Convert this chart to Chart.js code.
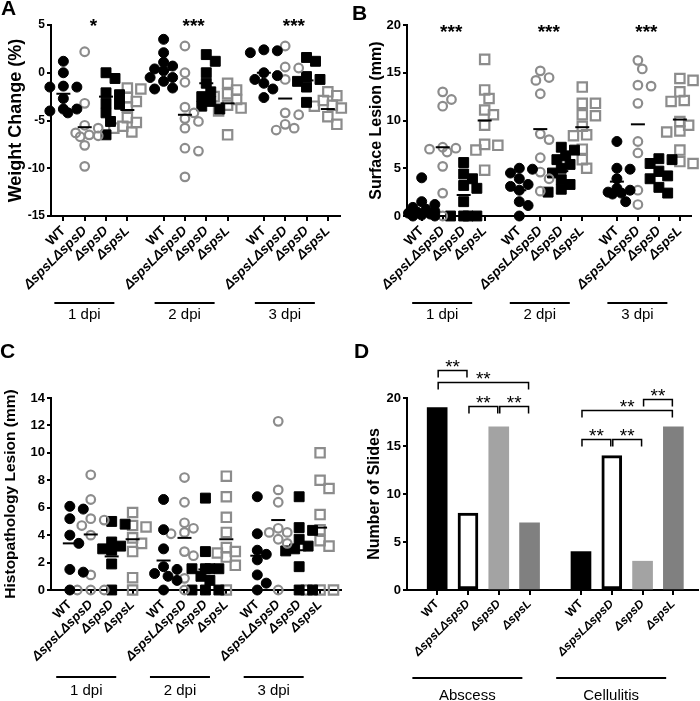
<!DOCTYPE html>
<html>
<head>
<meta charset="utf-8">
<title>Skin infection outcomes</title>
<script src="https://cdn.jsdelivr.net/npm/chart.js@4.4.1/dist/chart.umd.min.js"></script>
<style>
  html, body { margin: 0; padding: 0; background: #fff; }
  body { position: relative; width: 700px; height: 701px; overflow: hidden; font-family: "Liberation Sans", Arial, sans-serif; }
  .panel { position: absolute; }
  .letter { position: absolute; font-weight: bold; font-size: 21px; line-height: 21px; }
</style>
</head>
<body>
<div class="panel" style="left:0;top:0;width:350px;height:340px"><canvas id="weight-chart"></canvas></div>
<div class="panel" style="left:350px;top:0;width:350px;height:340px"><canvas id="surface-chart"></canvas></div>
<div class="panel" style="left:0;top:340px;width:350px;height:361px"><canvas id="histo-chart"></canvas></div>
<div class="panel" style="left:350px;top:340px;width:350px;height:361px"><canvas id="slides-chart"></canvas></div>
<div class="letter" style="left:1px;top:-3px">A</div>
<div class="letter" style="left:352px;top:2px">B</div>
<div class="letter" style="left:0;top:340px">C</div>
<div class="letter" style="left:354px;top:340px">D</div>
<script>
const STRAINS = ['WT', 'ΔspsLΔspsD', 'ΔspsD', 'ΔspsL'];
const DPI = ['1 dpi', '2 dpi', '3 dpi'];
const SITES = ['Abscess', 'Cellulitis'];

// A - weight change (%), one list per dpi
const weightWT = [
  [1.2, 0.0, -1.4, -1.5, -1.5, -2.7, -3.8, -3.8, -4.0, -4.2],
  [3.5, 2.1, 1.1, 0.7, 0.4, 0.2, -0.5, -0.5, -0.9, -1.6, -1.7],
  [2.4, 2.3, 2.1, 0.0, -0.3, -0.7, -1.1, -1.7, -2.6]
];
const weightDouble = [
  [2.2, -3.2, -5.5, -5.8, -6.3, -6.5, -6.6, -6.7, -7.6, -9.8],
  [2.8, 0.0, -1.0, -3.6, -4.2, -4.8, -5.1, -5.8, -7.9, -8.2, -10.9],
  [2.8, 0.6, 0.5, -0.7, -4.2, -4.4, -5.4, -5.8, -6.0]
];
const weightSpsD = [
  [0.0, -0.6, -2.1, -2.3, -3.2, -3.3, -4.2, -5.1, -6.5],
  [1.9, 1.2, 0.0, -1.1, -2.0, -2.5, -3.0, -3.5, -3.8],
  [1.6, 1.2, -0.4, -0.7, -0.9, -1.5, -3.1]
];
const weightSpsL = [
  [-1.6, -1.7, -2.6, -3.0, -3.6, -4.7, -5.2, -5.6, -5.8, -6.2],
  [-1.1, -1.8, -2.2, -2.5, -2.8, -3.4, -3.7, -4.0, -6.5],
  [-2.0, -2.4, -2.9, -3.4, -3.5, -3.7, -4.6, -5.4]
];
const weightMeans = [[-2.2, 0.3, 0.0], [-5.7, -4.4, -2.7], [-2.5, -1.1, -0.8], [-3.9, -3.2, -3.8]];
const weightStars = ['*', '***', '***'];

// B - surface lesion (mm)
const surfaceWT = [
  [4.0, 1.5, 1.2, 0.9, 0.7, 0.5, 0.4, 0.3, 0.2, 0.1, 0.0, 0.0],
  [5.0, 4.9, 4.5, 3.9, 3.3, 3.1, 2.7, 1.5, 1.1, 0.0],
  [7.8, 5.0, 4.9, 3.9, 2.9, 2.7, 2.5, 2.4, 2.3, 1.5]
];
const surfaceDouble = [
  [13.0, 12.2, 11.5, 7.2, 7.1, 7.0, 6.7, 5.2, 2.4, 0.0],
  [15.2, 14.5, 14.2, 12.8, 8.6, 8.0, 6.1, 4.6, 3.9, 2.6],
  [16.3, 15.4, 13.7, 13.6, 11.8, 7.8, 6.6, 2.7, 1.2]
];
const surfaceSpsD = [
  [5.6, 4.4, 3.9, 3.2, 2.9, 1.5, 0.0, 0.0, 0.0, 0.0],
  [7.2, 6.9, 6.3, 5.9, 5.4, 5.0, 4.5, 3.8, 3.3, 2.8, 2.5],
  [6.0, 5.9, 5.5, 4.7, 4.2, 3.9, 3.0, 2.4]
];
const surfaceSpsL = [
  [16.4, 13.2, 12.3, 11.1, 10.6, 9.5, 7.5, 7.4, 6.9, 4.8],
  [13.5, 11.8, 11.8, 10.6, 10.5, 9.4, 8.5, 8.4, 7.0, 5.9, 5.0],
  [14.4, 14.2, 13.0, 12.1, 12.0, 9.9, 9.5, 8.9, 8.8, 6.9, 5.7, 5.5]
];
const surfaceMeans = [[0.5, 2.7, 3.6], [7.2, 9.1, 9.6], [2.2, 4.7, 4.2], [10.0, 9.3, 10.1]];
const surfaceStars = ['***', '***', '***'];

// C - histopathology lesion (mm)
const histoWT = [
  [6.1, 5.9, 5.2, 4.0, 3.4, 1.5, 1.3, 0.0],
  [6.6, 4.4, 3.0, 1.7, 1.5, 1.2, 1.0, 0.7, 0.0],
  [6.8, 4.1, 2.9, 2.6, 2.2, 1.1, 0.5, 0.0]
];
const histoDouble = [
  [8.4, 6.6, 5.2, 5.1, 4.7, 4.0, 1.1, 0.0, 0.0, 0.0],
  [8.2, 6.4, 4.9, 4.5, 4.2, 4.1, 2.8, 2.5, 0.85, 0.0],
  [12.3, 7.3, 6.4, 4.5, 4.2, 4.2, 3.7, 3.4, 0.0]
];
const histoSpsD = [
  [5.0, 4.8, 3.5, 3.2, 3.0, 2.9, 1.9, 0.0],
  [6.7, 2.8, 1.55, 1.55, 1.55, 1.55, 1.0, 0.7, 0.0, 0.0, 0.0],
  [6.8, 4.55, 4.35, 3.7, 3.2, 3.0, 2.85, 1.7, 0.0, 0.0]
];
const histoSpsL = [
  [5.65, 4.7, 4.6, 3.8, 3.4, 2.8, 0.9, 0.0],
  [8.3, 6.8, 5.3, 4.2, 3.1, 2.8, 2.7, 2.4, 1.8, 0.0],
  [10.0, 8.0, 7.4, 5.5, 4.4, 3.6, 3.2, 0.0, 0.0, 0.0]
];
const histoMeans = [[3.4, 2.15, 2.5], [4.05, 3.8, 5.1], [2.45, 1.5, 2.9], [3.7, 3.7, 4.55]];

// D - number of slides
const abscessSlides = [19, 8, 17, 7];
const cellulitisSlides = [4, 14, 3, 17];
// [from bar, to bar, height] with bars numbered 0-7 across both sites
const slideBrackets = [
  [0, 1, 22.9], [0, 3, 21.7], [1, 2, 19.2], [2, 3, 19.2],
  [4, 7, 18.8], [6, 7, 19.9], [4, 5, 15.7], [5, 6, 15.7]
];

const FONT = '"Liberation Sans", Arial, sans-serif';
const GREY = '#8c8c8c';
const BAR_FILL = ['#000000', '#ffffff', '#a3a3a3', '#808080'];

Chart.defaults.font.family = FONT;
Chart.defaults.color = '#000';

const MARKERS = [
  { pointStyle: 'circle', pointRadius: 5, pointBackgroundColor: '#000', pointBorderColor: '#000', pointBorderWidth: 1 },
  { pointStyle: 'circle', pointRadius: 4.3, pointBackgroundColor: 'rgba(0,0,0,0)', pointBorderColor: GREY, pointBorderWidth: 2.2 },
  { pointStyle: 'rect', pointRadius: 7, pointBackgroundColor: '#000', pointBorderColor: '#000', pointBorderWidth: 1 },
  { pointStyle: 'rect', pointRadius: 6.6, pointBackgroundColor: 'rgba(0,0,0,0)', pointBorderColor: GREY, pointBorderWidth: 2.2 }
];

// spread points with close values sideways, like a dot plot does (offsets in px)
function swarm(values, pxPerUnit) {
  const placed = [];
  return values.map(v => {
    const y = v * pxPerUnit;
    let best = 0, bestDist = -1;
    for (const k of [0, 1, -1, 2, -2, 3, -3]) {
      const x = k * 4.5;
      let d = Infinity;
      placed.forEach(p => { d = Math.min(d, Math.hypot(p.x - x, p.y - y)); });
      if (d >= 9.5) { best = x; break; }
      if (d > bestDist) { bestDist = d; best = x; }
    }
    placed.push({ x: best, y });
    return best;
  });
}

const groupMarks = {
  id: 'groupMarks',
  afterDraw(chart, args, opts) {
    const { ctx, chartArea } = chart;
    const x = chart.scales.x, y = chart.scales.y;
    const pos = (g, i) => g * (3 + opts.gap) + i;
    ctx.save();
    ctx.fillStyle = '#000';
    ctx.strokeStyle = '#000';
    ctx.textAlign = 'center';
    ctx.textBaseline = 'alphabetic';
    opts.names.forEach((name, g) => {
      const a = x.getPixelForValue(pos(g, 0));
      const b = x.getPixelForValue(pos(g, 3));
      const c = (a + b) / 2 + opts.lineShift;
      const ly = chartArea.bottom + opts.lineDrop;
      ctx.lineWidth = 2;
      ctx.beginPath();
      ctx.moveTo(c - opts.lineHalf, ly);
      ctx.lineTo(c + opts.lineHalf, ly);
      ctx.stroke();
      ctx.font = opts.nameSize + 'px ' + FONT;
      ctx.fillText(name, c, chartArea.bottom + opts.nameDrop);
      if (opts.stars) {
        ctx.font = 'bold 19px ' + FONT;
        ctx.fillText(opts.stars[g], (a + b) / 2 - 2, chartArea.top + opts.starDrop);
      }
    });
    (opts.brackets || []).forEach(([from, to, level]) => {
      const xa = x.getPixelForValue(pos(Math.floor(from / 4), from % 4)) + 1;
      const xb = x.getPixelForValue(pos(Math.floor(to / 4), to % 4)) - 1;
      const yy = Math.round(y.getPixelForValue(level)) + 0.5;
      ctx.lineWidth = 1.5;
      ctx.beginPath();
      ctx.moveTo(xa, yy + 7);
      ctx.lineTo(xa, yy);
      ctx.lineTo(xb, yy);
      ctx.lineTo(xb, yy + 7);
      ctx.stroke();
      ctx.font = '19px ' + FONT;
      ctx.fillText('**', (xa + xb) / 2, yy + 2.5);
    });
    ctx.restore();
  }
};

function makeScales(p) {
  const pos = (g, i) => g * (3 + p.gap) + i;
  const tickPos = [];
  p.names.forEach((n, g) => STRAINS.forEach((s, i) => tickPos.push(pos(g, i))));
  return {
    x: {
      type: 'linear', min: p.xMin, max: p.xMax, bounds: 'data', offset: false,
      afterBuildTicks: s => { s.ticks = tickPos.map(v => ({ value: v })); },
      afterFit: s => { s.height = p.xHeight; },
      ticks: {
        autoSkip: false, minRotation: 45, maxRotation: 45, padding: 2, color: '#000',
        font: c => ({ size: p.tickSize, weight: 'bold', style: c.index % 4 ? 'italic' : 'normal' }),
        callback: (v, i) => STRAINS[i % 4]
      },
      grid: { offset: false, drawOnChartArea: false, tickLength: 5, color: '#000', lineWidth: 2 },
      border: { color: '#000', width: 2 }
    },
    y: {
      min: p.yMin, max: p.yMax,
      afterFit: s => { s.width = p.yWidth; },
      ticks: { stepSize: p.yStep, padding: 2, color: '#000', font: { size: p.yTickSize, weight: 'bold' } },
      grid: { drawOnChartArea: false, tickLength: 4, color: '#000', lineWidth: 2 },
      border: { color: '#000', width: 2 },
      title: {
        display: true, text: p.title, color: '#000',
        font: { size: p.titleSize, weight: 'bold' }, padding: { top: p.titlePad, bottom: 0 }
      }
    }
  };
}

function baseOptions(p) {
  return {
    responsive: true, maintainAspectRatio: false, animation: false, events: [],
    layout: { padding: { top: p.padTop, right: p.padRight, left: 0, bottom: 0 } },
    plugins: {
      legend: { display: false },
      tooltip: { enabled: false },
      groupMarks: {
        names: p.names, gap: p.gap, stars: p.stars, brackets: p.brackets,
        lineShift: p.lineShift, lineHalf: p.lineHalf, lineDrop: p.lineDrop,
        nameDrop: p.nameDrop, nameSize: p.nameSize, starDrop: p.starDrop
      }
    },
    scales: makeScales(p)
  };
}

function addDotPlot(id, series, means, p) {
  const pos = (g, i) => g * (3 + p.gap) + i;
  const chartW = p.width - p.padRight - p.yWidth;
  const chartH = p.height - p.padTop - p.xHeight;
  const pxX = chartW / (p.xMax - p.xMin);
  const pxY = chartH / (p.yMax - p.yMin);

  const datasets = [{
    label: 'mean',
    data: means.flatMap((row, i) => row.map((m, g) => ({ x: pos(g, i), y: m }))),
    pointStyle: 'line', pointRadius: 7, pointBorderColor: '#000', pointBorderWidth: 2,
    showLine: false, clip: false
  }];
  series.forEach((strain, i) => {
    datasets.push(Object.assign({
      label: STRAINS[i],
      data: strain.flatMap((vals, g) => {
        const offs = swarm(vals, pxY);
        return vals.map((v, k) => ({ x: pos(g, i) + offs[k] / pxX, y: v }));
      }),
      showLine: false, clip: false
    }, MARKERS[i]));
  });

  new Chart(document.getElementById(id), {
    type: 'scatter',
    data: { datasets },
    options: baseOptions(p),
    plugins: [groupMarks]
  });
}

addDotPlot('weight-chart', [weightWT, weightDouble, weightSpsD, weightSpsL], weightMeans, {
  width: 350, height: 340, yWidth: 51, padTop: 25, padRight: 10, xHeight: 124,
  xMin: -0.58, xMax: 12.97, gap: 1.7, yMin: -15, yMax: 5, yStep: 5,
  title: 'Weight Change (%)', titleSize: 18, titlePad: 5, tickSize: 13.5, yTickSize: 12,
  names: DPI, stars: weightStars, starDrop: 7,
  lineShift: -11, lineHalf: 30, lineDrop: 87, nameDrop: 103, nameSize: 15
});

addDotPlot('surface-chart', [surfaceWT, surfaceDouble, surfaceSpsD, surfaceSpsL], surfaceMeans, {
  width: 350, height: 340, yWidth: 57, padTop: 25, padRight: 2, xHeight: 124,
  xMin: -0.7, xMax: 12.83, gap: 1.65, yMin: 0, yMax: 20, yStep: 5,
  title: 'Surface Lesion (mm)', titleSize: 16, titlePad: 17, tickSize: 13.5, yTickSize: 13,
  names: DPI, stars: surfaceStars, starDrop: 12.5,
  lineShift: -11, lineHalf: 30, lineDrop: 87, nameDrop: 103, nameSize: 15
});

addDotPlot('histo-chart', [histoWT, histoDouble, histoSpsD, histoSpsL], histoMeans, {
  width: 350, height: 361, yWidth: 51, padTop: 58, padRight: 8, xHeight: 111,
  xMin: -0.9, xMax: 12.96, gap: 1.48, yMin: 0, yMax: 14, yStep: 2,
  title: 'Histopathology Lesion (mm)', titleSize: 15.5, titlePad: 1, tickSize: 13, yTickSize: 13,
  names: DPI, stars: null, starDrop: 0,
  lineShift: -15, lineHalf: 30, lineDrop: 87, nameDrop: 105, nameSize: 15
});

function addSlidesChart() {
  const p = {
    width: 350, height: 361, yWidth: 57, padTop: 58, padRight: 2, xHeight: 111,
    xMin: -0.98, xMax: 8.47, gap: 1.67, yMin: 0, yMax: 20, yStep: 5,
    title: 'Number of Slides', titleSize: 16, titlePad: 15, tickSize: 12, yTickSize: 13,
    names: SITES, stars: null, starDrop: 0, brackets: slideBrackets,
    lineShift: -16, lineHalf: 55, lineDrop: 88, nameDrop: 110, nameSize: 15
  };
  const pos = (g, i) => g * (3 + p.gap) + i;
  const options = baseOptions(p);
  options.scales.y.grace = 0;

  new Chart(document.getElementById('slides-chart'), {
    type: 'bar',
    data: {
      datasets: STRAINS.map((s, i) => ({
        label: s,
        data: [{ x: pos(0, i), y: abscessSlides[i] }, { x: pos(1, i), y: cellulitisSlides[i] }],
        backgroundColor: BAR_FILL[i],
        borderColor: '#000',
        borderWidth: i === 1 ? 3 : 0,
        borderSkipped: false,
        barThickness: 20,
        grouped: false
      }))
    },
    options,
    plugins: [groupMarks]
  });
}

addSlidesChart();
</script>
</body>
</html>
